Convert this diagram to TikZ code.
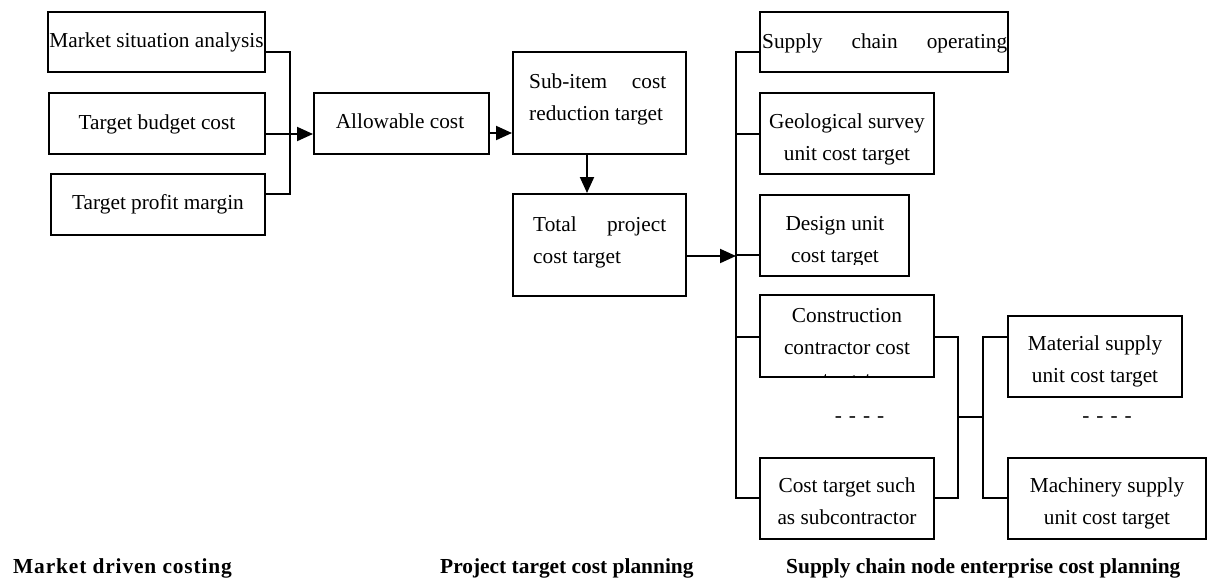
\documentclass[tikz,border=0pt]{standalone}
\usepackage{fontspec}
\setmainfont{Liberation Serif}
\usetikzlibrary{arrows.meta}

% first-line-baseline multi-line cells
\newcommand\twoline[2]{\begin{tabular}[t]{@{}c@{}}#1\\#2\end{tabular}}
\newcommand\threeline[3]{\begin{tabular}[t]{@{}c@{}}#1\\#2\\#3\end{tabular}}
\newcommand\justline[3]{\begin{tabular}[t]{@{}p{#1}@{}}#2\\#3\end{tabular}}

\tikzset{
  box/.style={draw, line width=2pt, inner sep=0pt},
  txt/.style={inner sep=0pt, anchor=base, font=\fontsize{21.3pt}{32pt}\selectfont},
  txtl/.style={txt, anchor=base west},
  head/.style={inner sep=0pt, anchor=base west, font=\fontsize{21.4pt}{26pt}\selectfont\bfseries},
  wire/.style={line width=2pt},
  arr/.style={wire, -{Triangle[length=16pt,width=14pt]}},
}

\begin{document}
\begin{tikzpicture}[x=1pt,y=-1pt]
\useasboundingbox (0,0) rectangle (1207,581);

% ---- market driven costing ----
\node[box, minimum width=217pt, minimum height=60pt] (msa) at (156.5,42) {};
\node[box, minimum width=216pt, minimum height=61pt] (tbc) at (157,123.5) {};
\node[box, minimum width=214pt, minimum height=61pt] (tpm) at (158,204.5) {};
\node[txt] (msa-t) at (156.5,47) {Market situation analysis};
\node[txt] (tbc-t) at (157,129) {Target budget cost};
\node[txt] (tpm-t) at (158,209) {Target profit margin};

% ---- project target cost planning ----
\node[box, minimum width=175pt, minimum height=61pt] (alc) at (401.5,123.5) {};
\node[box, minimum width=173pt, minimum height=102pt] (sub) at (599.5,103) {};
\node[box, minimum width=173pt, minimum height=102pt] (tot) at (599.5,245) {};
\node[txt] (alc-t) at (400,128) {Allowable cost};
\node[txtl] (sub-t) at (529,88) {\justline{137pt}{Sub-item\hfill cost}{reduction target}};
\node[txtl] (tot-t) at (533,231) {\justline{133pt}{Total\hfill project}{cost target}};

% ---- supply chain node enterprises ----
\node[box, minimum width=248pt, minimum height=60pt] (sco) at (884,42) {};
\node[box, minimum width=174pt, minimum height=81pt] (geo) at (847,133.5) {};
\node[box, minimum width=149pt, minimum height=81pt] (des) at (834.5,235.5) {};
\node[box, minimum width=174pt, minimum height=82pt] (con) at (847,336) {};
\node[box, minimum width=174pt, minimum height=81pt] (sbc) at (847,498.5) {};
\node[box, minimum width=174pt, minimum height=81pt] (mat) at (1095,356.5) {};
\node[box, minimum width=198pt, minimum height=81pt] (mac) at (1107,498.5) {};

\node[txtl] (sco-t) at (762,48) {\makebox[245pt][s]{Supply chain operating}};
\node[txt] (geo-t) at (847,128) {\twoline{Geological survey}{unit cost target}};
\begin{scope}
  \clip (760,195) rectangle (909,264);
  \node[txt] (des-t) at (835,230) {\twoline{Design unit}{cost target}};
\end{scope}
\begin{scope}
  \clip (760,295) rectangle (934,377);
  \node[txt] (con-t) at (847,322) {\threeline{Construction}{contractor cost}{target}};
\end{scope}
\node[txt] (sbc-t) at (847,492) {\twoline{Cost target such}{as subcontractor}};
\node[txt] (mat-t) at (1095,350) {\twoline{Material supply}{unit cost target}};
\node[txt] (mac-t) at (1107,492) {\twoline{Machinery supply}{unit cost target}};

\node[txt] (dots-l) at (859.5,422) {\addfontfeatures{LetterSpace=8}- - - -};
\node[txt] (dots-r) at (1107,422) {\addfontfeatures{LetterSpace=8}- - - -};

% ---- connectors ----
\coordinate (jL) at (290,134);
\draw[wire] ([yshift=-10pt]msa.east) -| (jL) |- ([yshift=10.5pt]tpm.east);
\draw[arr] ([yshift=-10.5pt]tbc.east) -- ([yshift=-10.5pt]alc.west);
\draw[arr] ([yshift=-9.5pt]alc.east) -- ([yshift=-9.5pt]alc.east -| sub.west);
\draw[arr] ([xshift=-12.5pt]sub.south) -- ([xshift=-12.5pt]tot.north);

\coordinate (busT) at (736,52);
\coordinate (busB) at (736,498);
\draw[arr] ([yshift=-11pt]tot.east) -- ([yshift=-11pt]tot.east -| busT);
\draw[wire] ([yshift=-10pt]sco.west) -- (busT) -- (busB) -- (sbc.west |- busB);
\draw[wire] ([yshift=-0.5pt]geo.west) -- ([yshift=-0.5pt]geo.west -| busT);
\draw[wire] ([yshift=-19.5pt]des.west) -- ([yshift=-19.5pt]des.west -| busT);
\draw[wire] ([yshift=-1pt]con.west) -- ([yshift=-1pt]con.west -| busT);

\coordinate (jM) at (958,417);
\coordinate (jR) at (983,417);
\draw[wire] ([yshift=-1pt]con.east) -| (jM) |- (sbc.east |- busB);
\draw[wire] (jM) -- (jR);
\draw[wire] ([yshift=19.5pt]mat.west) -| (jR) |- (mac.west |- busB);

% ---- stage headings ----
\node[head] (h1) at (13,573) {\addfontfeatures{LetterSpace=4}Market driven costing};
\node[head] (h2) at (440,573) {Project target cost planning};
\node[head] (h3) at (786,573) {Supply chain node enterprise cost planning};
\end{tikzpicture}
\end{document}
